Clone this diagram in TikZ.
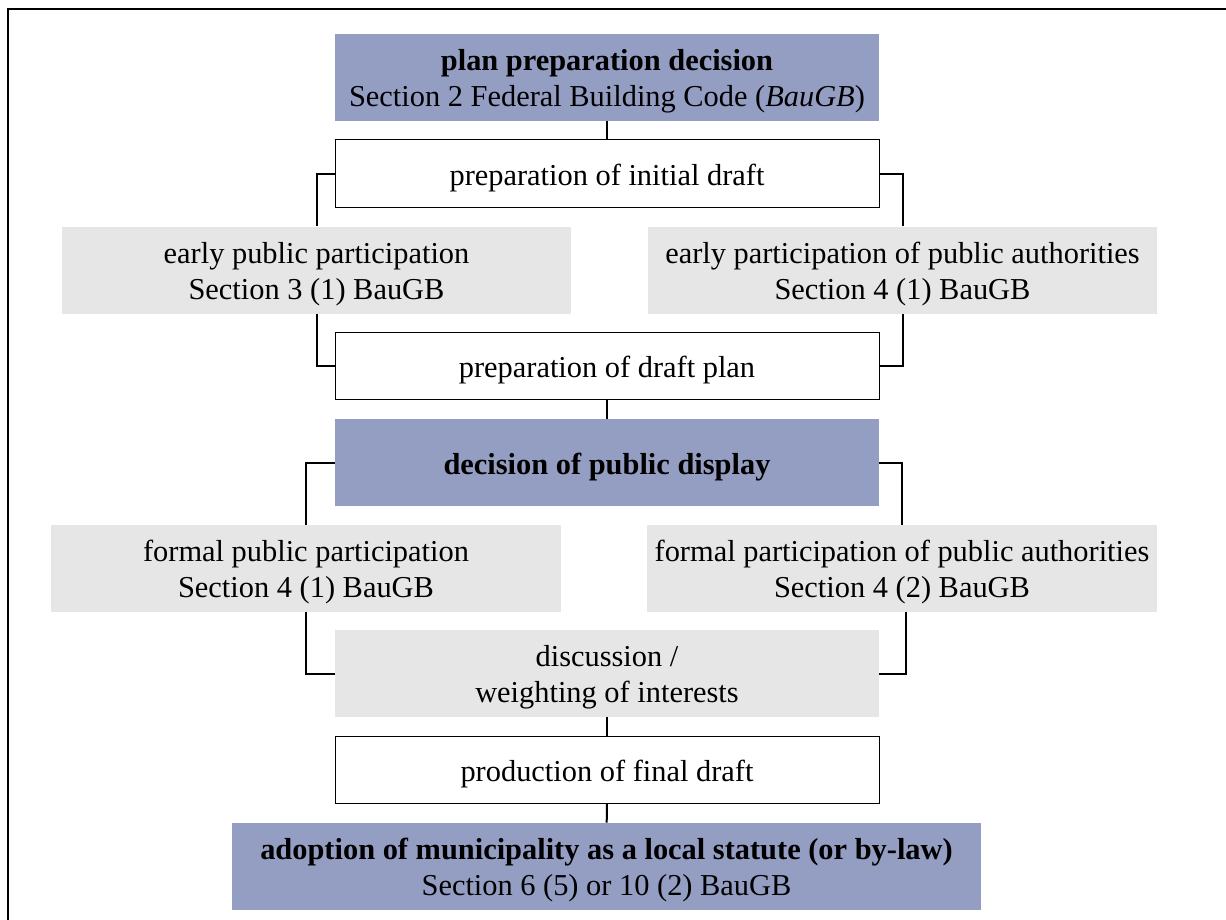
\documentclass[tikz,border=0pt]{standalone}
\usepackage{fontspec}
\setmainfont{Liberation Serif}
\usetikzlibrary{positioning}
\definecolor{planblue}{RGB}{148,158,195}
\definecolor{plangray}{RGB}{230,230,230}

\begin{document}
\begin{tikzpicture}[x=0.5pt, y=-0.5pt,  % one unit is one pixel of the target, y downwards
    box/.style={minimum width=272pt, minimum height=43.5pt, inner sep=0pt, align=center, text height=15pt, font=\fontsize{15.2}{18}\selectfont},
    twolines/.style={text height=32.5pt},
    bluebox/.style={box, fill=planblue},
    whitebox/.style={box, draw, line width=0.5pt, minimum height=33.5pt},
    graybox/.style={box, twolines, fill=plangray, minimum width=254.5pt},
    link/.style={line width=1pt}]
    \clip (0,0) rectangle (1226,920);  % page size
    \draw[line width=1pt] (8,9) rectangle (1240,940);  % outer frame

    % main column
    \node[bluebox, twolines] (decide) at (607,77.5) {\textbf{plan preparation decision}\\Section 2 Federal Building Code (\textit{BauGB})};
    \node[whitebox] (initial) at (607,173.5) {preparation of initial draft};
    \node[graybox] (earlypub) at (316.5,270) {early public participation\\Section 3 (1) BauGB};
    \node[graybox] (earlyauth) at (902.5,270) {early participation of public authorities\\Section 4 (1) BauGB};
    \node[whitebox] (draftplan) at (607,365.5) {preparation of draft plan};
    \node[bluebox] (display) at (607,462.5) {\textbf{decision of public display}};
    \node[graybox, minimum width=255pt] (formalpub) at (306,568.5) {formal public participation\\Section 4 (1) BauGB};
    \node[graybox, minimum width=255pt] (formalauth) at (902,568.5) {formal participation of public authorities\\Section 4 (2) BauGB};
    \node[box, twolines, fill=plangray] (weigh) at (607,673.5) {discussion /\\weighting of interests};
    \node[whitebox] (final) at (607,770) {production of final draft};
    \node[bluebox, twolines, minimum width=374.5pt] (adopt) at (606.5,866.5) {\textbf{adoption of municipality as a local statute (or by-law)}\\Section 6 (5) or 10 (2) BauGB};

    % connectors
    \draw[link] (decide) -- (initial);
    \draw[link] (initial.west) -| (earlypub.north);
    \draw[link] (initial.east) -| (earlyauth.north);
    \draw[link] (earlypub.south) |- (draftplan.west);
    \draw[link] (earlyauth.south) |- (draftplan.east);
    \draw[link] (draftplan) -- (display);
    \draw[link] (display.west) -| (formalpub.north);
    \draw[link] (display.east) -| (formalauth.north);
    \draw[link] (formalpub.south) |- (weigh.west);
    \draw[link] ([xshift=2pt]formalauth.south) |- (weigh.east);
    \draw[link] (weigh) -- (final);
    \draw[link] (final) -- (adopt);
\end{tikzpicture}
\end{document}
